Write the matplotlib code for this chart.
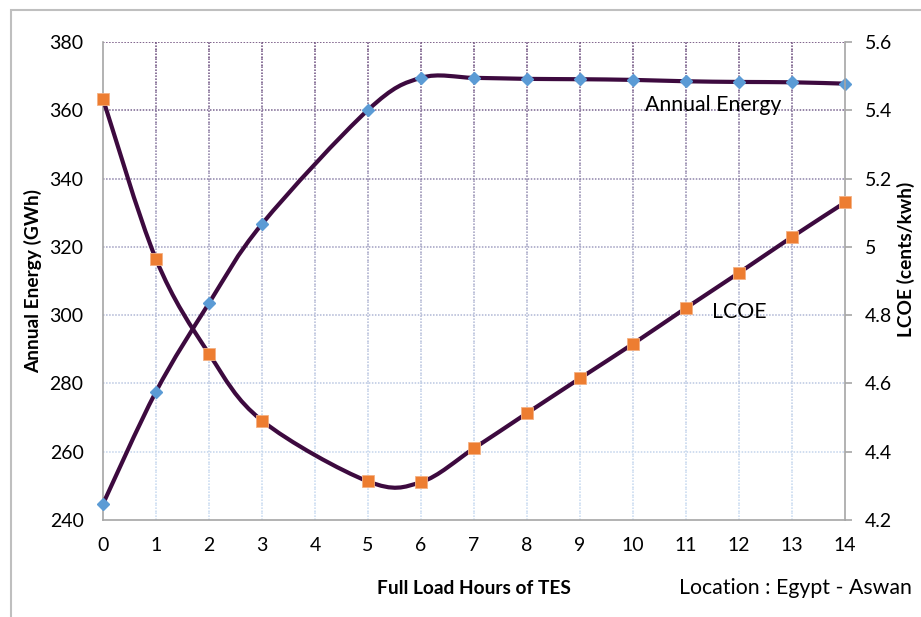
import numpy as np
import matplotlib
matplotlib.use('Agg')
import matplotlib.pyplot as plt
from matplotlib.path import Path
from matplotlib.patches import PathPatch, Rectangle
from matplotlib.collections import LineCollection
from matplotlib.colors import to_rgb
from matplotlib.ticker import FuncFormatter

plt.rcParams['font.family'] = ['Lato', 'DejaVu Sans']

# data
hours = [0, 1, 2, 3, 5, 6, 7, 8, 9, 10, 11, 12, 13, 14]
energy = [244.7, 277.6, 303.5, 326.7, 360.1, 369.5, 369.5, 369.2, 369.1, 368.9, 368.5, 368.3, 368.2, 367.8]
lcoe = [5.433, 4.964, 4.687, 4.491, 4.313, 4.311, 4.410, 4.513, 4.615, 4.716, 4.821, 4.924, 5.029, 5.130]

x_ticks = list(range(0, 15))
energy_ticks = [240, 260, 280, 300, 320, 340, 360, 380]
lcoe_ticks = [4.2, 4.4, 4.6, 4.8, 5.0, 5.2, 5.4, 5.6]

line_col = '#3d0a3f'
top_grid = '#5e3a6e'
bot_grid = '#c6d9f0'


def smooth_path(xs, ys):
    # excel-like smoothed line: cubic bezier, control points at 1/6 of neighbour difference
    pts = np.column_stack([xs, ys]).astype(float)
    n = len(pts)
    verts = [pts[0]]
    codes = [Path.MOVETO]
    for i in range(n - 1):
        p0 = pts[max(i - 1, 0)]
        p1 = pts[i]
        p2 = pts[i + 1]
        p3 = pts[min(i + 2, n - 1)]
        c1 = p1 + (p2 - p0) / 6.0
        c2 = p2 - (p3 - p1) / 6.0
        verts += [c1, c2, p2]
        codes += [Path.CURVE4] * 3
    return Path(verts, codes)


def grid_color(frac):
    a = np.array(to_rgb(bot_grid))
    b = np.array(to_rgb(top_grid))
    return tuple(a + (b - a) * frac ** 1.8)


fig = plt.figure(figsize=(9.21, 6.17), dpi=100)
ax = fig.add_axes([103 / 921, 97 / 617, 742 / 921, 478 / 617])
ax2 = ax.twinx()

ax.set_xlim(0, 14)
ax.set_ylim(240, 380)
ax2.set_ylim(4.2, 5.6)

# gridlines fading from purple (top) to light blue (bottom)
for v in energy_ticks[1:]:
    frac = (v - 240) / 140.0
    ax.axhline(v, color=grid_color(frac), lw=1.1, ls=(0, (1, 1)), zorder=0)
segs, cols = [], []
ys = np.linspace(240, 380, 60)
for xv in x_ticks[1:-1]:
    for k in range(len(ys) - 1):
        segs.append([(xv, ys[k]), (xv, ys[k + 1])])
        cols.append(grid_color((ys[k] - 240) / 140.0))
ax.add_collection(LineCollection(segs, colors=cols, lw=1.1, linestyles=(0, (1, 1)), zorder=0))

# curves
ax.add_patch(PathPatch(smooth_path(hours, energy), fill=False, ec=line_col, lw=3, zorder=3, capstyle='round'))
ax2.add_patch(PathPatch(smooth_path(hours, lcoe), fill=False, ec=line_col, lw=3, zorder=3, capstyle='round'))
ax.plot(hours, energy, ls='none', marker='D', ms=6.5, mfc='#5b9bd5', mec='#5b9bd5', zorder=4, clip_on=False)
ax2.plot(hours, lcoe, ls='none', marker='s', ms=8, mfc='#ed7d31', mec='#f4b183', mew=0.6, zorder=4, clip_on=False)

# axes styling
for a in (ax, ax2):
    for s in a.spines.values():
        s.set_visible(False)
for side in ('left', 'bottom'):
    ax.spines[side].set_visible(True)
    ax.spines[side].set_color('#a6a6a6')
    ax.spines[side].set_linewidth(1.2)
ax2.spines['right'].set_visible(True)
ax2.spines['right'].set_color('#a6a6a6')
ax2.spines['right'].set_linewidth(1.2)

ax.set_xticks(x_ticks)
ax.set_yticks(energy_ticks)
ax2.set_yticks(lcoe_ticks)
ax2.yaxis.set_major_formatter(FuncFormatter(lambda v, p: '%g' % round(v, 1)))
ax.tick_params(axis='x', length=0, pad=12, labelsize=14, colors='black')
ax.tick_params(axis='y', length=0, pad=14, labelsize=14)
ax2.tick_params(axis='y', length=5, width=1.2, color='#a6a6a6', direction='out', pad=9, labelsize=14)

ax.set_xlabel('Full Load Hours of TES', fontsize=13.8, fontweight='bold')
ax.xaxis.set_label_coords(0.5, -0.125)
ax.set_ylabel('Annual Energy (GWh)', fontsize=13.8, fontweight='bold')
ax.yaxis.set_label_coords(-0.082, 0.5)
ax2.set_ylabel('LCOE (cents/kwh)', fontsize=13.8, fontweight='bold')
ax2.yaxis.set_label_coords(1.07, 0.546)

ax.text(10.23, 361.6, 'Annual Energy', fontsize=15.3, va='center', ha='left', zorder=5)
ax.text(11.49, 300.9, 'LCOE', fontsize=15.3, va='center', ha='left', zorder=5)
fig.text(912 / 921, 1 - 588 / 617, 'Location : Egypt - Aswan', fontsize=15.3, ha='right', va='center')

# outer chart border (cropped at right/bottom)
fig.patches.append(Rectangle((11 / 921, -0.05), 1.2, 1 - 10 / 617 + 0.05, transform=fig.transFigure,
                             fill=False, ec='#bfbfbf', lw=1.5))

fig.savefig('out.png', dpi=100)
